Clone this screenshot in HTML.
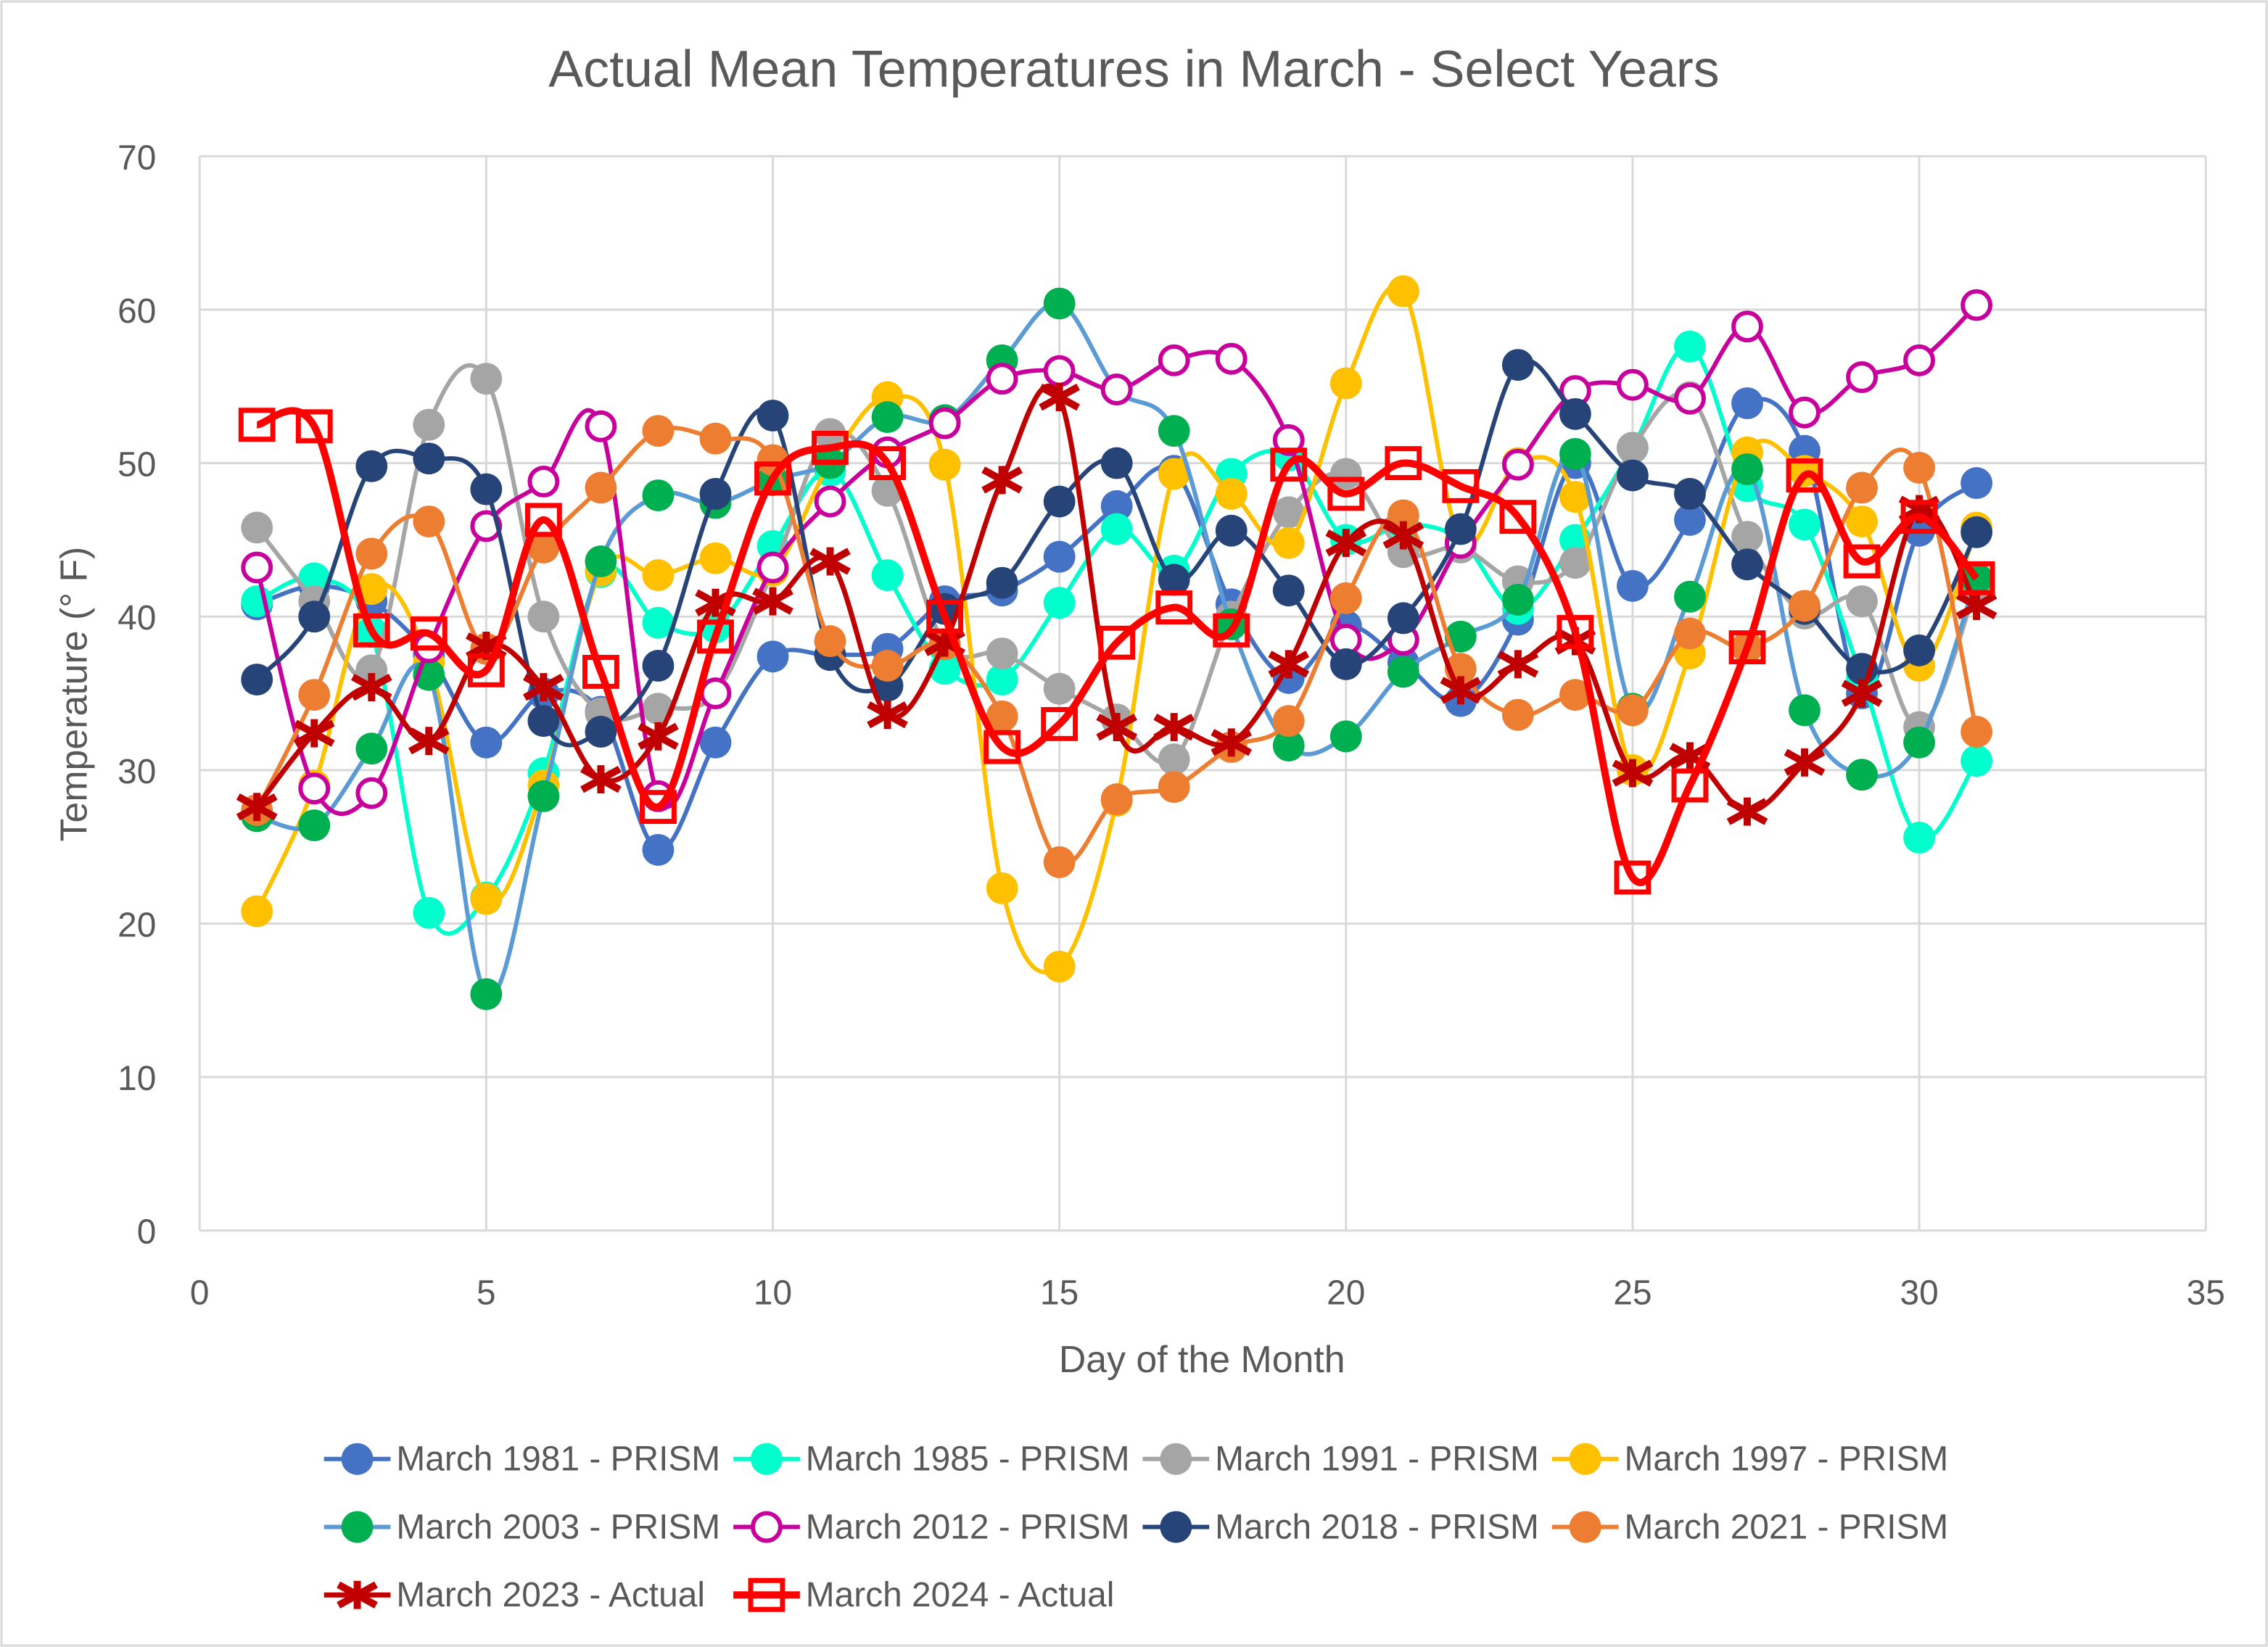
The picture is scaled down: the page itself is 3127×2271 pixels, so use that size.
<!DOCTYPE html>
<html><head><meta charset="utf-8"><style>html,body{margin:0;padding:0;background:#fff}svg{display:block}</style></head>
<body>
<svg id="chart" xmlns="http://www.w3.org/2000/svg" width="3127" height="2271" viewBox="0 0 1568 1139" preserveAspectRatio="none" font-family="'Liberation Sans', sans-serif">
<rect x="1" y="1" width="1566" height="1137" fill="#fff" stroke="#d9d9d9" stroke-width="1.5"/>
<text x="784" y="60" text-anchor="middle" font-size="36" fill="#595959">Actual Mean Temperatures in March - Select Years</text>
<g id="grid"></g>
<g id="axes"></g>
<g id="series"></g>
<text x="831" y="949" text-anchor="middle" font-size="26" fill="#595959">Day of the Month</text>
<text transform="translate(60,480) rotate(-90)" text-anchor="middle" font-size="26" fill="#595959">Temperature (° F)</text>
<g id="legend"></g>
</svg>
<script>
const days = Array.from({length:31},(_,i)=>i+1);
const xTicks = [0,5,10,15,20,25,30,35];
const yTicks = [0,10,20,30,40,50,60,70];
const seriesNames = ["March 1981 - PRISM","March 1985 - PRISM","March 1991 - PRISM","March 1997 - PRISM","March 2003 - PRISM","March 2012 - PRISM","March 2018 - PRISM","March 2021 - PRISM","March 2023 - Actual","March 2024 - Actual"];
const v1981 = [40.8,42,41,37.5,31.8,35,33.8,24.8,31.8,37.4,37.5,37.9,41,41.7,43.9,47.2,49.5,40.8,36,39.4,37,34.5,39.8,50,42,46.3,53.9,50.8,35,45.6,48.7];
const v1985 = [41,42.5,39,20.7,21.7,29.8,42.9,39.6,39.3,44.6,49.5,42.7,36.6,35.9,40.9,45.7,43,49.3,50.5,45,46,45,40.5,45,51,57.6,48.5,46,36,25.6,30.6];
const v1991 = [45.8,41,36.5,52.5,55.5,40,33.7,34,35,43,51.9,48.2,38.2,37.6,35.3,33.3,30.7,40,46.8,49.3,44.2,44.5,42.3,43.5,51,54.3,45.2,40.2,41,32.8,42];
const v1997 = [20.8,29,41.8,37,21.6,29,43,42.7,43.8,43,50,54.3,49.9,22.3,17.2,28,49.3,48,44.8,55.2,61.2,45,50,47.8,30,37.6,50.7,49.5,46.2,36.8,45.8];
const v2003 = [27,26.4,31.4,36.2,15.4,28.3,43.6,47.9,47.4,48.9,50,53,52.8,56.7,60.4,54.8,52.1,39.5,31.6,32.2,36.4,38.7,41.1,50.6,34,41.3,49.6,33.9,29.7,31.8,42.5];
const v2012 = [43.2,28.8,28.5,38,45.9,48.8,52.4,28.3,35,43.2,47.5,50.7,52.6,55.5,56,54.8,56.7,56.8,51.5,38.5,38.5,44.8,49.9,54.7,55.1,54.2,58.9,53.3,55.6,56.7,60.3];
const v2018 = [35.9,40,49.8,50.3,48.3,33.2,32.5,36.8,48,53.1,37.5,35.5,40.5,42.2,47.5,50,42.4,45.6,41.7,36.9,39.9,45.7,56.4,53.2,49.2,48,43.4,40.5,36.6,37.8,45.5];
const v2021 = [27.4,34.9,44.1,46.2,37.9,44.5,48.4,52.1,51.6,50.2,38.4,36.8,38.2,33.5,24,28.1,28.9,31.5,33.2,41.2,46.6,36.6,33.6,34.9,33.9,38.9,38,40.7,48.4,49.7,32.5];
const v2023 = [27.6,32.4,35.4,31.9,38.1,35.4,29.4,32.2,40.9,41,43.6,33.6,38.3,48.9,54.3,32.8,32.8,31.8,36.9,44.8,45.3,35.2,36.9,38.4,29.8,30.9,27.3,30.5,35,47,40.7];
const v2024 = [52.5,52.4,39.1,38.9,36.5,46.3,36.4,27.6,38.7,49,51,50,40,31.5,33,38.3,40.6,39.1,49.9,48,50,48.5,46.5,39,23,29,38,49.2,43.6,46.5,42.5];
const allValues = [v1981,v1985,v1991,v1997,v2003,v2012,v2018,v2021,v2023,v2024];
const styles = [
 {line:"#4472C4",fill:"#4472C4",m:"circle",w:3},
 {line:"#00FFCC",fill:"#00FFCC",m:"circle",w:3},
 {line:"#A5A5A5",fill:"#A5A5A5",m:"circle",w:3},
 {line:"#FFC000",fill:"#FFC000",m:"circle",w:3},
 {line:"#5B9BD5",fill:"#00B050",m:"circle",w:3},
 {line:"#C8009C",fill:"none",m:"ring",w:3},
 {line:"#264478",fill:"#264478",m:"circle",w:3},
 {line:"#ED7D31",fill:"#ED7D31",m:"circle",w:3},
 {line:"#C00000",fill:"#C00000",m:"star",w:3.5},
 {line:"#FF0000",fill:"none",m:"square",w:5}
];
const NS="http://www.w3.org/2000/svg";
const X0=138,X1=1525,Y0=851,Y1=108;
const xs=d=>X0+(X1-X0)*d/35, ys=v=>Y0-(Y0-Y1)*v/70;
function mk(tag,attrs,parent){const e=document.createElementNS(NS,tag);for(const k in attrs)e.setAttribute(k,attrs[k]);parent.appendChild(e);return e;}
const grid=document.getElementById('grid'),axes=document.getElementById('axes');
yTicks.forEach(t=>{
 const l=mk('line',{x1:X0,x2:X1,y1:ys(t),y2:ys(t),stroke:'#d9d9d9','stroke-width':1.5},grid);
 
 
 const tx=mk('text',{x:108,y:ys(t)+9,'text-anchor':'end','font-size':24,fill:'#595959'},axes);
 tx.textContent=t;
 
 
});
xTicks.forEach(t=>{
 const l=mk('line',{x1:xs(t),x2:xs(t),y1:Y1,y2:Y0,stroke:'#d9d9d9','stroke-width':1.5},grid);
 
 
 const tx=mk('text',{x:xs(t),y:902,'text-anchor':'middle','font-size':24,fill:'#595959'},axes);
 tx.textContent=t;
 
 
});
function smooth(pts){
 let d=`M${pts[0][0]},${pts[0][1]}`;
 for(let i=0;i<pts.length-1;i++){
  const p0=pts[Math.max(0,i-1)],p1=pts[i],p2=pts[i+1],p3=pts[Math.min(pts.length-1,i+2)];
  const c1=[p1[0]+(p2[0]-p0[0])/6,p1[1]+(p2[1]-p0[1])/6];
  const c2=[p2[0]-(p3[0]-p1[0])/6,p2[1]-(p3[1]-p1[1])/6];
  d+=`C${c1[0]},${c1[1]} ${c2[0]},${c2[1]} ${p2[0]},${p2[1]}`;
 }
 return d;
}
function marker(st,x,y,parent,scale){
 const s=scale||1;let e;
 if(st.m==='circle'){e=mk('circle',{cx:x,cy:y,r:11*s,fill:st.fill},parent);}
 else if(st.m==='ring'){e=mk('circle',{cx:x,cy:y,r:9.5*s,fill:'#fff',stroke:st.line,'stroke-width':3},parent);}
 else if(st.m==='square'){e=mk('rect',{x:x-11*s,y:y-10*s,width:22*s,height:20*s,fill:'none',stroke:st.line,'stroke-width':3.5},parent);}
 else {const r=13*s;e=mk('path',{d:`M${x-r},${y-r*0.55}L${x+r},${y+r*0.55}M${x-r},${y+r*0.55}L${x+r},${y-r*0.55}M${x},${y-r*0.75}L${x},${y+r*0.75}`,stroke:st.line,'stroke-width':5,fill:'none'},parent);}
 return e;
}
const sg=document.getElementById('series');
allValues.forEach((vals,si)=>{
 const st=styles[si];
 const g=mk('g',{},sg);
 
 
 const pts=vals.map((v,i)=>[xs(days[i]),ys(v)]);
 const p=mk('path',{d:smooth(pts),fill:'none',stroke:st.line,'stroke-width':st.w},g);
 
 
 pts.forEach(pt=>{
  const m=marker(st,pt[0],pt[1],g);
  
  
 });
});
const lg=document.getElementById('legend');
seriesNames.forEach((n,i)=>{
 const st=styles[i];
 const row=Math.floor(i/4),col=i%4;
 const x=224+col*283,y=1009+row*47;
 const g=mk('g',{},lg);
 
 
 mk('line',{x1:x,x2:x+46,y1:y,y2:y,stroke:st.line,'stroke-width':st.w},g);
 marker(st,x+23,y,g);
 const t=mk('text',{x:x+50,y:y+8,'font-size':24,fill:'#595959'},g);
 t.textContent=n;
});
</script>
</body></html>
